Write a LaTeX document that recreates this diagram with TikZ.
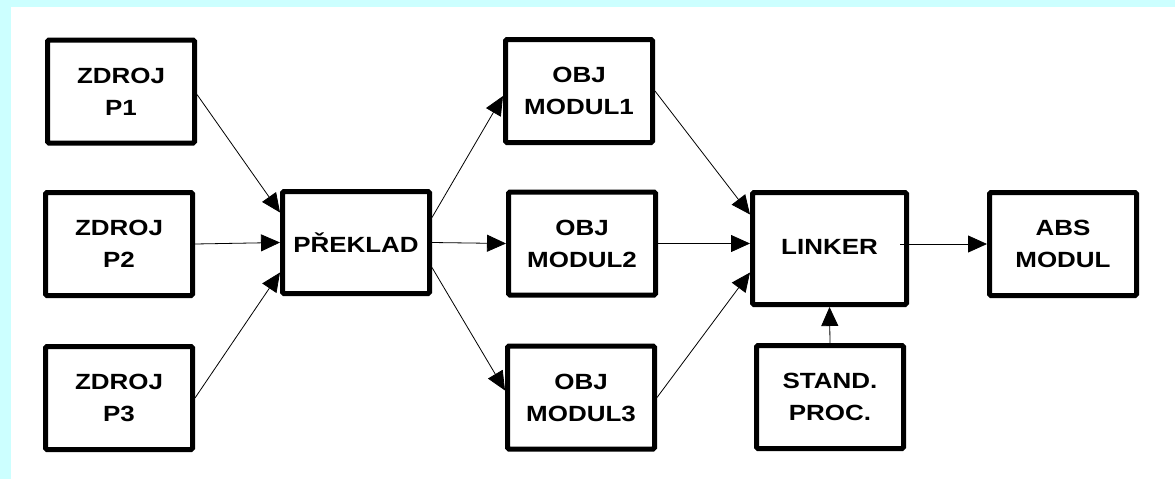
\documentclass[tikz,border=0pt]{standalone}
\usepackage{fontspec}
\setmainfont{Liberation Sans}[FakeStretch=1.18]
\usetikzlibrary{arrows.meta,calc}
\definecolor{bgcyan}{RGB}{204,255,255}
\tikzset{
  box/.style={draw=black, line width=5pt, rounded corners=1.5pt, fill=white,
    minimum width=147pt, minimum height=103pt, inner sep=0pt, align=center,
    font=\bfseries\fontsize{22}{32}\selectfont},
  arr/.style={draw=black, line width=0.8pt, -{Triangle[length=19pt,width=17pt]}}
}
\begin{document}
\begin{tikzpicture}[x=1pt,y=-1pt]
\fill[bgcyan] (0,0) rectangle (1175,479);
\fill[white] (11,7) rectangle (1175,479);
\useasboundingbox (0,0) rectangle (1175,479);

\node[box] (p1) at (121,91.5) {ZDROJ\\P1};
\node[box] (p2) at (119,244) {ZDROJ\\P2};
\node[box] (p3) at (119,398) {ZDROJ\\P3};
\node[box, minimum height=102pt] (pr) at (356,242.5) {PŘEKLAD};
\node[box] (m1) at (579,91) {OBJ\\MODUL1};
\node[box] (m2) at (582,243.5) {OBJ\\MODUL2};
\node[box] (m3) at (581,397.5) {OBJ\\MODUL3};
\node[box, minimum width=154pt, minimum height=112pt] (lk) at (829.5,248.5) {\raisebox{3pt}{LINKER}};
\node[box] (abs) at (1063,244) {ABS\\MODUL};
\node[box] (st) at (830,397) {STAND.\\PROC.};

\draw[arr] ($(p1.east)+(0pt,-3pt)$) -- ($(pr.west)+(0pt,30pt)$);
\draw[arr] (p2.east) -- (pr.west);
\draw[arr] (p3.east) -- ($(pr.west)+(0pt,-30pt)$);

\draw[arr] ($(pr.east)+(0pt,25pt)$) -- ($(m1.west)+(0pt,-5pt)$);
\draw[arr] (pr.east) -- (m2.west);
\draw[arr] ($(pr.east)+(0pt,-25pt)$) -- ($(m3.west)+(0pt,7pt)$);

\draw[arr] (m1.east) -- ($(lk.west)+(0pt,34pt)$);
\draw[arr] (m2.east) -- ($(lk.west)+(0pt,5pt)$);
\draw[arr] (m3.east) -- ($(lk.west)+(0pt,-24pt)$);

\draw[arr] ($(abs.west -| lk.east)+(-9pt,0pt)$) -- (abs.west);
\draw[arr] (st.north) -- (lk.south);
\end{tikzpicture}
\end{document}
